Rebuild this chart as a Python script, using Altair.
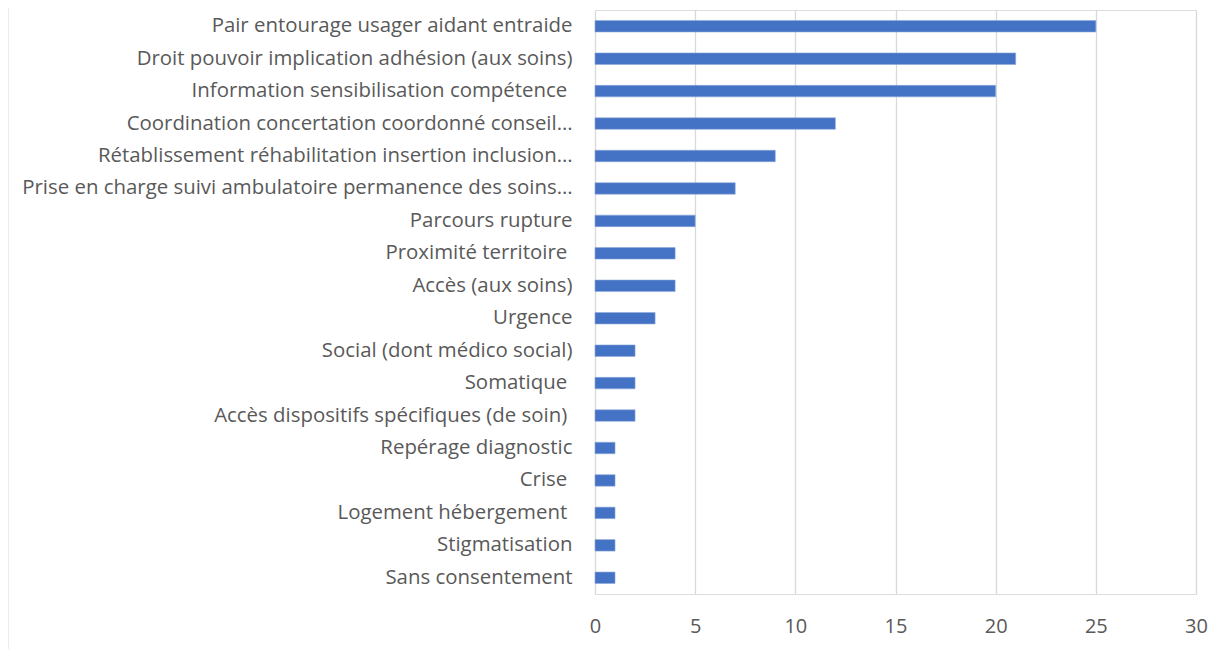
import altair as alt
import pandas as pd

SP = " \u200b"
categories = [
    "Pair entourage usager aidant entraide",
    "Droit pouvoir implication adhésion (aux soins)",
    "Information sensibilisation compétence" + SP,
    "Coordination concertation coordonné conseil…",
    "Rétablissement réhabilitation insertion inclusion…",
    "Prise en charge suivi ambulatoire permanence des soins…",
    "Parcours rupture",
    "Proximité territoire" + SP,
    "Accès (aux soins)",
    "Urgence",
    "Social (dont médico social)",
    "Somatique" + SP,
    "Accès dispositifs spécifiques (de soin)" + SP,
    "Repérage diagnostic",
    "Crise" + SP,
    "Logement hébergement" + SP,
    "Stigmatisation",
    "Sans consentement",
]
values = [25, 21, 20, 12, 9, 7, 5, 4, 4, 3, 2, 2, 2, 1, 1, 1, 1, 1]

df = pd.DataFrame({"cat": categories, "val": values})

W, H = 601, 584
FONT = "Open Sans"
GREY = "#595959"

bars = alt.Chart(df).mark_bar(color="#4472C4", stroke="#8FAADC", strokeWidth=0.6).encode(
    x=alt.X("val:Q", scale=alt.Scale(domain=[0, 30], nice=False),
            axis=alt.Axis(values=[0, 5, 10, 15, 20, 25, 30], title=None, domain=False, ticks=False,
                          grid=True, gridColor="#D9D9D9", gridWidth=1.3, labelFlush=False,
                          labelFont=FONT, labelFontSize=20, labelColor=GREY, labelPadding=22)),
    y=alt.Y("cat:N", sort=categories,
            scale=alt.Scale(paddingInner=0.646, paddingOuter=0.323),
            axis=alt.Axis(title=None, domain=False, ticks=False, grid=False,
                          labelFont=FONT, labelFontSize=20.4, labelColor=GREY, labelPadding=23,
                          labelLimit=0)),
)

border = alt.Chart(pd.DataFrame({"a": [0]})).mark_rule(color="#D9D9D9", strokeWidth=1).encode(
    x=alt.value(-587), y=alt.value(-12), y2=alt.value(H + 70)
)

chart = alt.layer(bars, border).properties(
    width=W, height=H,
    autosize=alt.AutoSizeParams(type="none"),
    padding={"left": 587, "top": 2, "right": 27, "bottom": 55},
).configure_view(stroke=None).configure(background="white")

chart.save("out.html", embed_options={"renderer": "svg", "actions": False})
